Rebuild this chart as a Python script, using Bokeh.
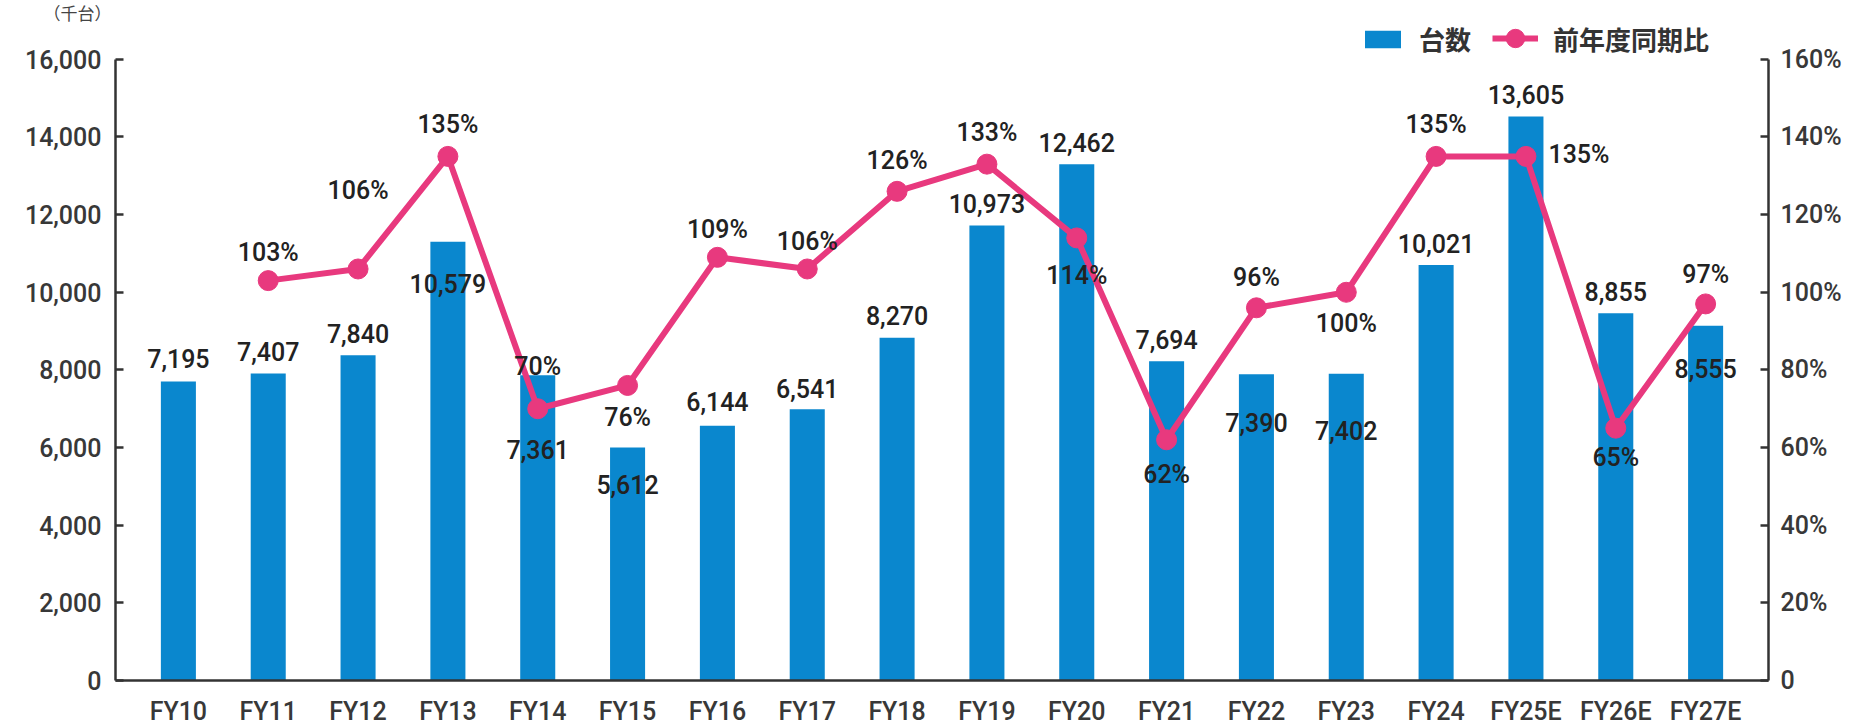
from bokeh.plotting import figure
from bokeh.models import (Range1d, LinearAxis, FixedTicker, NumeralTickFormatter,
                          ColumnDataSource, Legend, LegendItem)
from bokeh.core.properties import value
from bokeh.embed import file_html
from bokeh.resources import INLINE

# ---- data ----
categories = ["FY10", "FY11", "FY12", "FY13", "FY14", "FY15", "FY16", "FY17", "FY18",
              "FY19", "FY20", "FY21", "FY22", "FY23", "FY24", "FY25E", "FY26E", "FY27E"]
units_printed = [7195, 7407, 7840, 10579, 7361, 5612, 6144, 6541, 8270,
                 10973, 12462, 7694, 7390, 7402, 10021, 13605, 8855, 8555]
bar_heights = [7700, 7910, 8380, 11300, 7860, 6000, 6560, 6990, 8830,
               11720, 13300, 8220, 7890, 7900, 10700, 14530, 9460, 9140]
yoy_categories = categories[1:]
yoy_pct = [103, 106, 135, 70, 76, 109, 106, 126, 133, 114, 62, 96, 100, 135, 135, 65, 97]
left_ticks = [0, 2000, 4000, 6000, 8000, 10000, 12000, 14000, 16000]
right_ticks = [0, 20, 40, 60, 80, 100, 120, 140, 160]
LEFT_MAX, RIGHT_MAX = 16000, 160

# ---- label placement (screen px, up positive) ----
bar_label_dy = [23, 22, 22, -42, -74, -37, 24, 21, 22, 22, 22, 22, -48, -57, 22, 22, 22, -43]
pct_label_dx = [0] * 14 + [53, 0, 0]
pct_label_dy = [28, 78, 32, 42, -32, 28, 27, 31, 32, -38, -35, 30, -31, 32, 2, -29, 29]

BLUE = "#0A87CE"
PINK = "#E8397E"
TXT = "#222222"
AX = "#333333"
FONT = "Roboto Medium"
CJK = "Noto Sans CJK JP"

W, H = 1862, 728
FRAME_TOP, FRAME_BOTTOM = 20, 682      # frame extends above the axis top
AXIS_TOP_PX = 58                        # screen y of the 16,000 tick
scale = (FRAME_BOTTOM - FRAME_TOP) / (FRAME_BOTTOM - AXIS_TOP_PX)

p = figure(width=W, height=H, output_backend="svg", toolbar_location=None,
           x_range=Range1d(-0.7, 17.7), y_range=Range1d(0, LEFT_MAX * scale),
           min_border_left=115, min_border_right=94, min_border_top=FRAME_TOP,
           min_border_bottom=H - FRAME_BOTTOM, outline_line_color=None,
           background_fill_color="white", border_fill_color="white",
           title="（千台）")
p.grid.visible = False
p.extra_y_ranges = {"pct": Range1d(0, RIGHT_MAX * scale)}

p.title.align = "left"
p.title.offset = -72
p.title.standoff = -6
p.title.text_font = CJK
p.title.text_font_size = "17px"
p.title.text_font_style = "normal"
p.title.text_color = "#444444"

xs = list(range(len(categories)))
bars = ColumnDataSource(dict(x=xs, h=bar_heights,
                             t=[f"{v:,}" for v in units_printed],
                             dy=[-d for d in bar_label_dy]))
r_bar = p.vbar(x="x", top="h", width=0.39, source=bars, fill_color=BLUE, line_color=None)

pxs = list(range(1, len(categories)))
line_src = ColumnDataSource(dict(x=pxs, y=yoy_pct, t=[f"{v}%" for v in yoy_pct],
                                 dx=pct_label_dx, dy=[-d for d in pct_label_dy]))
r_line = p.line(x="x", y="y", source=line_src, y_range_name="pct",
                line_color=PINK, line_width=6)
r_pt = p.scatter(x="x", y="y", source=line_src, y_range_name="pct", size=20,
                 fill_color=PINK, line_color=PINK)

p.text(x="x", y="h", text="t", source=bars, y_offset="dy",
       text_align="center", text_baseline="middle", text_color=TXT,
       text_font=value(FONT), text_font_size="25px")
p.text(x="x", y="y", text="t", source=line_src, y_range_name="pct",
       x_offset="dx", y_offset="dy", text_align="center", text_baseline="middle",
       text_color=TXT, text_font=value(FONT), text_font_size="25px")

def style_axis(ax):
    ax.axis_line_color = AX
    ax.axis_line_width = 2.5
    ax.major_tick_line_color = AX
    ax.major_tick_line_width = 2.5
    ax.major_tick_in = 8
    ax.major_tick_out = 0
    ax.minor_tick_line_color = None
    ax.major_label_text_color = "#383838"
    ax.major_label_text_font = FONT
    ax.major_label_text_font_size = "25px"
    ax.major_label_standoff = 14

# left axis
yl = p.yaxis[0]
yl.ticker = FixedTicker(ticks=left_ticks)
yl.formatter = NumeralTickFormatter(format="0,0")
yl.bounds = (0, LEFT_MAX)
style_axis(yl)

# right axis
yr = LinearAxis(y_range_name="pct", ticker=FixedTicker(ticks=right_ticks),
                bounds=(0, RIGHT_MAX))
yr.major_label_overrides = {t: (f"{t}%" if t else "0") for t in right_ticks}
style_axis(yr)
yr.major_label_standoff = 12
p.add_layout(yr, "right")

# bottom axis
xa = p.xaxis[0]
xa.ticker = FixedTicker(ticks=xs)
xa.major_label_overrides = {i: c for i, c in enumerate(categories)}
style_axis(xa)
xa.major_tick_line_color = None
xa.major_label_standoff = 16

legend_style = dict(orientation="horizontal", padding=0, margin=0,
                    border_line_color=None, background_fill_alpha=0,
                    label_text_font=CJK, label_text_font_size="26px",
                    label_text_font_style="bold", label_text_color="#333333")
leg_bar = Legend(items=[LegendItem(label="台数", renderers=[r_bar])],
                 location=(1245, 623), glyph_width=45, glyph_height=22,
                 label_standoff=14, **legend_style)
leg_line = Legend(items=[LegendItem(label="前年度同期比", renderers=[r_line, r_pt])],
                  location=(1377, 617), glyph_width=46, glyph_height=50,
                  label_standoff=15, **legend_style)
p.add_layout(leg_bar, "center")
p.add_layout(leg_line, "center")

open("out.html", "w").write(file_html(p, INLINE))
